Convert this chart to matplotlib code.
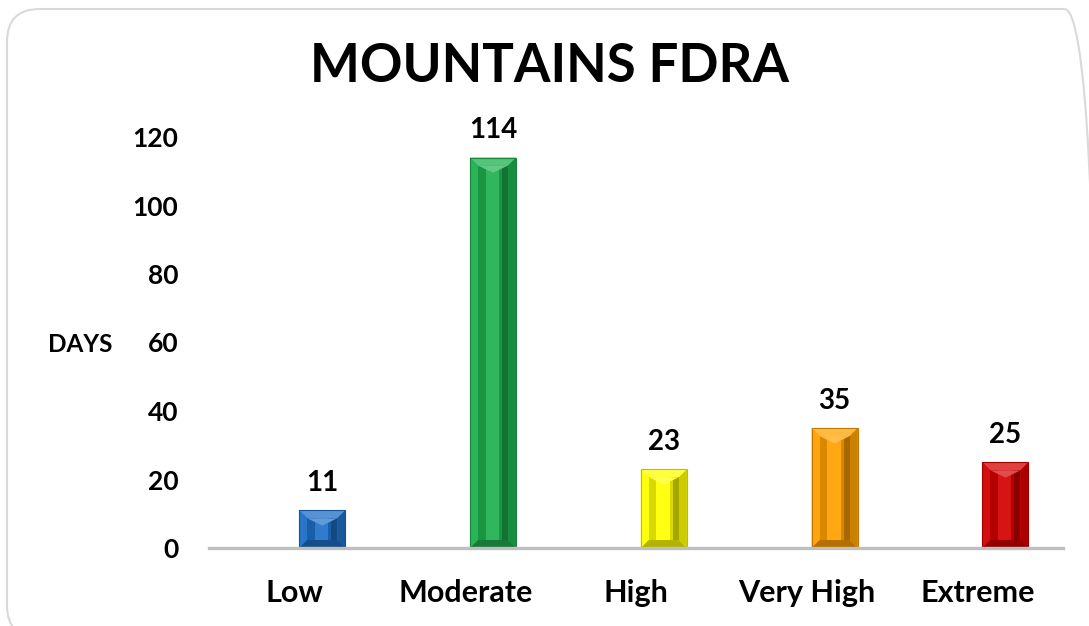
import matplotlib.pyplot as plt
import matplotlib.colors as mcolors
from matplotlib.patches import FancyBboxPatch, Polygon, Rectangle
import numpy as np

categories = ['Low', 'Moderate', 'High', 'Very High', 'Extreme']
days = [11, 114, 23, 35, 25]
bar_colors = ['#1e6fc6', '#1fb04f', '#ffff00', '#ffa000', '#d40000']
y_ticks = [0, 20, 40, 60, 80, 100, 120]

plt.rcParams['font.family'] = ['Lato', 'DejaVu Sans']
plt.rcParams['font.weight'] = 'bold'


def shade(c, f):
    # f > 0 lighten towards white, f < 0 darken towards black
    rgb = np.array(mcolors.to_rgb(c))
    if f >= 0:
        return tuple(rgb + (1 - rgb) * f)
    return tuple(rgb * (1 + f))


fig = plt.figure(figsize=(10.89, 6.26), dpi=100)

# rounded chart border (runs off the right and bottom edges)
border = FancyBboxPatch((7 / 1089, -12 / 626), 1090 / 1089, 629 / 626,
                        boxstyle='round,pad=0,rounding_size=0.03',
                        transform=fig.transFigure, facecolor='none',
                        edgecolor='#d9d9d9', linewidth=1.5, zorder=-1,
                        mutation_aspect=1089 / 626)
fig.patches.append(border)

ax = fig.add_axes([209 / 1089, 78 / 626, 854 / 1089, 411 / 626])
ax.set_facecolor('none')

x = np.arange(len(categories))
offset = 0.163
width = 0.27
bars = ax.bar(x + offset, days, width=width, color=bar_colors, zorder=2,
              edgecolor='none')

# bevel look on each bar
bev_x = width * 8 / 46
bev_y = 120 * 8 / 411
for b, c in zip(bars, bar_colors):
    x0, y0 = b.get_x(), b.get_y()
    x1, y1 = x0 + b.get_width(), y0 + b.get_height()
    bx = bev_x
    by = min(bev_y, (y1 - y0) / 3)
    ix0, ix1, iy0, iy1 = x0 + bx, x1 - bx, y0 + by, y1 - by
    faces = [
        ([(x0, y1), (x1, y1), (ix1, iy1), (ix0, iy1)], shade(c, 0.25)),
        ([(x0, y0), (x0, y1), (ix0, iy1), (ix0, iy0)], shade(c, 0.05)),
        ([(x1, y0), (x1, y1), (ix1, iy1), (ix1, iy0)], shade(c, -0.2)),
        ([(x0, y0), (x1, y0), (ix1, iy0), (ix0, iy0)], shade(c, -0.3)),
    ]
    for pts, fc in faces:
        ax.add_patch(Polygon(pts, closed=True, facecolor=fc, edgecolor='none', zorder=3))
    # inner face: dark left band, light middle, dark right band
    iw = ix1 - ix0
    ax.add_patch(Rectangle((ix0, iy0), iw, iy1 - iy0, facecolor=shade(c, -0.15),
                           edgecolor='none', zorder=3))
    ax.add_patch(Rectangle((ix0 + iw * 0.25, iy0), iw * 0.45, iy1 - iy0,
                           facecolor=shade(c, 0.08), edgecolor='none', zorder=3))
    ax.add_patch(Rectangle((ix1 - iw * 0.2, iy0), iw * 0.2, iy1 - iy0,
                           facecolor=shade(c, -0.35), edgecolor='none', zorder=3))
    # chevron at top of inner face
    ax.add_patch(Polygon([(ix0, iy1), (ix1, iy1), ((ix0 + ix1) / 2, iy1 - by * 0.9)],
                         closed=True, facecolor=shade(c, 0.3), edgecolor='none', zorder=3))
    ax.add_patch(Rectangle((x0, y0), x1 - x0, y1 - y0, facecolor='none',
                           edgecolor=shade(c, -0.25), linewidth=0.8, zorder=4))

for b, v in zip(bars, days):
    ax.annotate(str(v), (b.get_x() + b.get_width() / 2, v), xytext=(0, 14),
                textcoords='offset points', ha='center', va='baseline',
                fontsize=20, fontweight='bold', color='black')

ax.set_xlim(-0.5, len(categories) - 0.5)
ax.set_ylim(0, 120)
ax.set_yticks(y_ticks)
ax.set_xticks(x)
ax.set_xticklabels(categories)
ax.tick_params(axis='both', length=0)
ax.tick_params(axis='y', pad=22, labelsize=19)
ax.tick_params(axis='x', pad=22, labelsize=22)
for lab in ax.get_xticklabels() + ax.get_yticklabels():
    lab.set_fontweight('bold')

for s in ['top', 'right', 'left']:
    ax.spines[s].set_visible(False)
ax.spines['bottom'].set_color('#bfbfbf')
ax.spines['bottom'].set_linewidth(2.4)
ax.spines['bottom'].set_zorder(5)

ax.set_ylabel('DAYS', rotation=0, fontsize=17.5, fontweight='bold', ha='center', va='center')
ax.yaxis.set_label_coords(-0.151, 0.494)

fig.text(550 / 1089, 1 - 66 / 626, 'MOUNTAINS FDRA', ha='center', va='center',
         fontsize=38, fontweight='bold')

fig.savefig('out.png', dpi=100)
